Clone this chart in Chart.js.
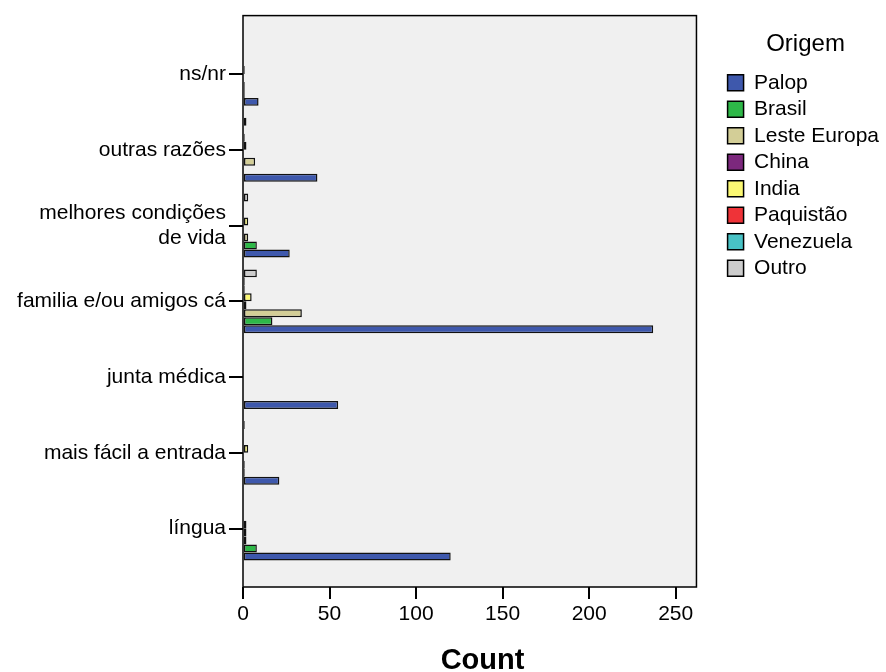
<!DOCTYPE html>
<html lang="pt">
<head>
<meta charset="utf-8">
<title>Origem - Count</title>
<script src="https://cdn.jsdelivr.net/npm/chart.js@4.4.1/dist/chart.umd.min.js"></script>
<style>
  html, body { margin: 0; padding: 0; background: #fff; }
  #wrap { width: 886px; height: 672px; }
</style>
</head>
<body>
<div id="wrap"><canvas id="origemChart" width="886" height="672"></canvas></div>
<script>
// categorias, de cima para baixo
const categories = [
    'ns/nr',
    'outras razões',
    ['melhores condições', 'de vida'],
    'familia e/ou amigos cá',
    'junta médica',
    'mais fácil a entrada',
    'língua'
];

const seriesNames = ['Palop', 'Brasil', 'Leste Europa', 'China', 'India', 'Paquistão', 'Venezuela', 'Outro'];

// contagens por origem (mesma ordem das categorias)
const palop       = [9, 43, 27, 237, 55, 21, 120];
const brasil      = [1, 0, 8, 17, 0, 1, 8];
const lesteEuropa = [1, 7, 3, 34, 0, 1, 2];
const china       = [0, 0, 0, 2, 0, 0, 2];
const india       = [1, 2, 3, 5, 0, 3, 2];
const paquistao   = [0, 1, 0, 1, 0, 0, 0];
const venezuela   = [0, 0, 0, 1, 0, 0, 0];
const outro       = [0, 2, 3, 8, 0, 1, 0];

const xTickValues = [0, 50, 100, 150, 200, 250];
const xMax = 262;          // fim da moldura
const xScaleMax = 276.8;   // a escala continua um pouco para afastar a legenda

// cores padrao do SPSS
const seriesColors = ['#3e58ac', '#2eb848', '#d3ce97', '#7c287d', '#fbf873', '#ef3338', '#48c2c5', '#cccccc'];
const fontFamily = '"Liberation Sans", Arial, sans-serif';

const seriesValues = [palop, brasil, lesteEuropa, china, india, paquistao, venezuela, outro];

// Palop fica em baixo dentro do grupo, por isso a ordem dos datasets e invertida
// (a legenda volta a inverter com reverse: true)
const datasets = seriesNames.map((name, s) => ({
    label: name,
    data: seriesValues[s].map((v, i) => ({ x: v === 0 ? null : v, y: i })),
    backgroundColor: seriesColors[s],
    borderColor: '#111',
    borderWidth: 1.5,
    borderSkipped: false
})).reverse();

// fundo cinzento e moldura, ate ao valor xMax
const plotFrame = {
    id: 'plotFrame',
    beforeDraw(chart) {
        const a = chart.chartArea;
        const right = chart.scales.x.getPixelForValue(xMax);
        const ctx = chart.ctx;
        ctx.save();
        ctx.fillStyle = '#f0f0f0';
        ctx.fillRect(a.left, a.top, right - a.left, a.bottom - a.top);
        ctx.restore();
    },
    afterDatasetsDraw(chart) {
        const a = chart.chartArea;
        const right = chart.scales.x.getPixelForValue(xMax);
        const ctx = chart.ctx;
        ctx.save();
        ctx.strokeStyle = '#000';
        ctx.lineWidth = 1.5;
        ctx.strokeRect(a.left, a.top, right - a.left, a.bottom - a.top);
        ctx.restore();
    }
};

const ctx = document.getElementById('origemChart').getContext('2d');

new Chart(ctx, {
    type: 'bar',
    data: { datasets: datasets },
    plugins: [plotFrame],
    options: {
        responsive: false,
        animation: false,
        indexAxis: 'y',
        layout: { padding: { top: 14, right: -3, bottom: 0, left: 0 } },
        datasets: {
            bar: { categoryPercentage: 0.842, barPercentage: 1 }
        },
        scales: {
            x: {
                type: 'linear',
                position: 'bottom',
                min: 0,
                max: xScaleMax,
                afterBuildTicks: (scale) => { scale.ticks = xTickValues.map(v => ({ value: v })); },
                afterFit: (scale) => { scale.height = 85; },
                grid: { drawOnChartArea: false, tickLength: 12, color: '#000', lineWidth: 2 },
                border: { display: false },
                ticks: { color: '#000', font: { family: fontFamily, size: 21 }, padding: 3, maxRotation: 0 },
                title: {
                    display: true,
                    text: 'Count',
                    color: '#000',
                    font: { family: fontFamily, size: 29, weight: 'bold', lineHeight: 0.75 },
                    padding: 0
                }
            },
            y: {
                type: 'linear',
                reverse: true,
                min: -0.77,
                max: 6.77,
                offset: false,
                afterBuildTicks: (scale) => { scale.ticks = categories.map((c, i) => ({ value: i })); },
                afterFit: (scale) => { scale.width = 243; },
                grid: { drawOnChartArea: false, tickLength: 14, color: '#000', lineWidth: 2, offset: false },
                border: { display: false },
                ticks: {
                    color: '#000',
                    font: { family: fontFamily, size: 21 },
                    padding: 3,
                    autoSkip: false,
                    callback: (v) => categories[v]
                }
            }
        },
        plugins: {
            tooltip: { enabled: false },
            legend: {
                position: 'right',
                align: 'start',
                reverse: true,
                title: {
                    display: true,
                    text: 'Origem',
                    color: '#000',
                    font: { family: fontFamily, size: 24 },
                    padding: { top: 18, bottom: 6 }
                },
                labels: {
                    color: '#000',
                    font: { family: fontFamily, size: 21 },
                    boxWidth: 16,
                    boxHeight: 16,
                    padding: 5.5,
                    generateLabels: function(chart) {
                        const items = Chart.defaults.plugins.legend.labels.generateLabels(chart);
                        items.forEach(it => { it.lineWidth = 1.5; it.strokeStyle = '#000'; });
                        return items;
                    }
                }
            }
        }
    }
});
</script>
</body>
</html>
